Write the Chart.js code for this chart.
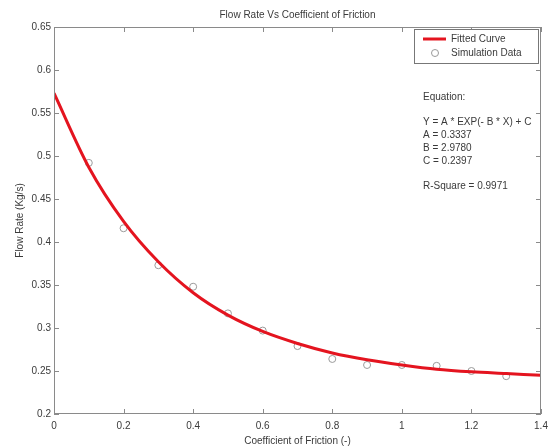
<!DOCTYPE html>
<html>
<head>
<meta charset="utf-8">
<script src="https://cdn.jsdelivr.net/npm/chart.js@4/dist/chart.umd.min.js"></script>
<style>
  html, body { margin: 0; padding: 0; background: #fff; }
</style>
</head>
<body>
<canvas id="chart" width="550" height="448"></canvas>
<script>
// fitted curve
const fitX = [0, 0.1, 0.2, 0.3, 0.4, 0.5, 0.6, 0.7, 0.8, 0.9, 1.0, 1.1, 1.2, 1.3, 1.4];
const fitY = [0.573, 0.487, 0.424, 0.377, 0.341, 0.315, 0.296, 0.282, 0.271, 0.263, 0.257, 0.252, 0.249, 0.247, 0.245];

// simulation points (grey circles)
const simX = [0.1, 0.2, 0.3, 0.4, 0.5, 0.6, 0.7, 0.8, 0.9, 1.0, 1.1, 1.2, 1.3];
const simY = [0.492, 0.416, 0.373, 0.348, 0.317, 0.297, 0.279, 0.264, 0.257, 0.257, 0.256, 0.250, 0.244];

const legendLabels = ['Fitted Curve', 'Simulation Data'];
const noteLines = [
  'Equation:',
  '',
  'Y = A * EXP(- B * X) + C',
  'A = 0.3337',
  'B = 2.9780',
  'C = 0.2397',
  '',
  'R-Square = 0.9971',
];

const FONT = "'Liberation Sans', Arial, sans-serif";
const TEXT = '#3a3a3a';
const AXIS = '#8a8a8a';
const RED = '#e4141f';
const GREY = '#9a9a9a';

function toPoints(xs, ys) {
  return xs.map((x, i) => ({ x: x, y: ys[i] }));
}

// MATLAB-like frame: box, inward ticks, legend and the equation text
const framePlugin = {
  id: 'frame',
  afterDraw(chart) {
    const { ctx, chartArea } = chart;
    const { left, right, top, bottom } = chartArea;
    const sx = chart.scales.x;
    const sy = chart.scales.y;
    const tick = 5;

    ctx.save();
    ctx.strokeStyle = AXIS;
    ctx.lineWidth = 1;
    ctx.strokeRect(left + 0.5, top + 0.5, right - left - 1, bottom - top - 1);

    ctx.beginPath();
    sx.ticks.forEach((t) => {
      const px = Math.round(sx.getPixelForValue(t.value)) + 0.5;
      ctx.moveTo(px, bottom);
      ctx.lineTo(px, bottom - tick);
      ctx.moveTo(px, top);
      ctx.lineTo(px, top + tick);
    });
    sy.ticks.forEach((t) => {
      const py = Math.round(sy.getPixelForValue(t.value)) + 0.5;
      ctx.moveTo(left, py);
      ctx.lineTo(left + tick, py);
      ctx.moveTo(right, py);
      ctx.lineTo(right - tick, py);
    });
    ctx.stroke();

    // legend box
    const lx = right - 127;
    const ly = top + 2;
    ctx.fillStyle = '#fff';
    ctx.fillRect(lx, ly, 124, 34);
    ctx.strokeStyle = '#777';
    ctx.strokeRect(lx + 0.5, ly + 0.5, 124, 34);

    ctx.strokeStyle = RED;
    ctx.lineWidth = 3;
    ctx.beginPath();
    ctx.moveTo(lx + 9, ly + 10);
    ctx.lineTo(lx + 32, ly + 10);
    ctx.stroke();

    ctx.strokeStyle = GREY;
    ctx.lineWidth = 1;
    ctx.beginPath();
    ctx.arc(lx + 21, ly + 24, 3.5, 0, Math.PI * 2);
    ctx.stroke();

    ctx.fillStyle = TEXT;
    ctx.font = '10px ' + FONT;
    ctx.textBaseline = 'middle';
    ctx.textAlign = 'left';
    ctx.fillText(legendLabels[0], lx + 37, ly + 10);
    ctx.fillText(legendLabels[1], lx + 37, ly + 24);

    // equation note
    const nx = right - 118;
    let ny = top + 70;
    noteLines.forEach((line) => {
      if (line) {
        ctx.fillText(line, nx, ny);
      }
      ny += 12.8;
    });

    ctx.restore();
  },
};

const config = {
  type: 'scatter',
  data: {
    datasets: [
      {
        label: legendLabels[0],
        data: toPoints(fitX, fitY),
        showLine: true,
        borderColor: RED,
        borderWidth: 3,
        pointRadius: 0,
        cubicInterpolationMode: 'monotone',
        order: 1,
      },
      {
        label: legendLabels[1],
        data: toPoints(simX, simY),
        showLine: false,
        pointStyle: 'circle',
        pointRadius: 3.5,
        borderColor: GREY,
        borderWidth: 1,
        backgroundColor: 'rgba(0,0,0,0)',
        order: 2,
      },
    ],
  },
  options: {
    responsive: false,
    animation: false,
    layout: {
      padding: { left: 0, right: 9, top: 0, bottom: 0 },
    },
    plugins: {
      legend: { display: false },
      tooltip: { enabled: false },
      title: {
        display: true,
        fullSize: false,
        text: 'Flow Rate Vs Coefficient of Friction',
        color: TEXT,
        font: { family: FONT, size: 10, weight: 'normal' },
        padding: { top: 9, bottom: 6 },
      },
    },
    scales: {
      x: {
        type: 'linear',
        min: 0,
        max: 1.4,
        grid: { display: false, drawTicks: false },
        border: { display: false },
        ticks: {
          stepSize: 0.2,
          color: TEXT,
          padding: 6,
          font: { family: FONT, size: 10 },
          callback: (v) => String(Number(v.toFixed(2))),
        },
        title: {
          display: true,
          text: 'Coefficient of Friction (-)',
          color: TEXT,
          font: { family: FONT, size: 10 },
          padding: { top: 0, bottom: 1 },
        },
        afterFit(scale) {
          scale.height = 34;
          scale.paddingLeft = 0;
          scale.paddingRight = 0;
        },
      },
      y: {
        min: 0.2,
        max: 0.65,
        grid: { display: false, drawTicks: false },
        border: { display: false },
        ticks: {
          stepSize: 0.05,
          color: TEXT,
          padding: 3,
          font: { family: FONT, size: 10 },
          callback: (v) => String(Number(v.toFixed(2))),
        },
        title: {
          display: true,
          text: 'Flow Rate (Kg/s)',
          color: TEXT,
          font: { family: FONT, size: 10 },
          padding: { top: 14, bottom: 0 },
        },
        afterFit(scale) {
          scale.width = 54;
          scale.paddingTop = 0;
          scale.paddingBottom = 0;
        },
      },
    },
  },
  plugins: [framePlugin],
};

new Chart(document.getElementById('chart'), config);
</script>
</body>
</html>
